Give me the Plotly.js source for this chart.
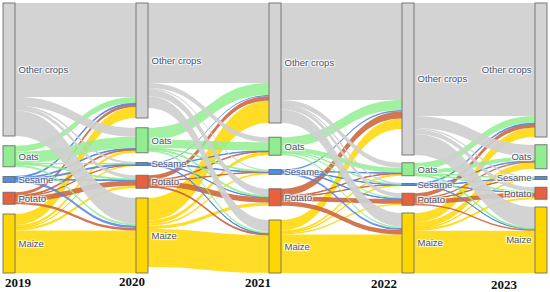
<!DOCTYPE html>
<html><head><meta charset="utf-8">
<script src="https://cdn.plot.ly/plotly-3.0.1.min.js"></script>
<style>html,body{margin:0;padding:0;background:#fff;}</style>
</head><body>
<div id="chart" style="width:550px;height:292px"></div>
<script>
// ---- data ----
const years = ['2019', '2020', '2021', '2022', '2023'];
const crops = ['Other crops', 'Oats', 'Sesame', 'Potato', 'Maize'];
// rows: source crop (previous year), columns: target crop (next year)
const flows2019to2020 = [
  [94, 9, 1, 3.5, 25.5],
  [6, 11.5, 0.5, 1, 2],
  [1, 0.7, 1, 0.8, 2.5],
  [3, 1, 0.2, 5.3, 2.5],
  [11, 2.8, 0.3, 2.4, 42.5]
];
const flows2020to2021 = [
  [80, 5, 1.3, 7, 11.7],
  [12, 8.5, 0.8, 1, 1.7],
  [1.2, 0.4, 0.6, 0.3, 0.5],
  [4.5, 0.6, 0.4, 5.5, 1],
  [22.3, 3.5, 1.9, 3.2, 38.1]
];
const flows2021to2022 = [
  [97, 5, 0.5, 4, 13.5],
  [10, 5, 0.3, 1.2, 1.5],
  [1.5, 0.5, 0.4, 0.6, 2],
  [7, 0.5, 0.3, 4.7, 4.5],
  [10.5, 2, 0.5, 1.5, 38.5]
];
const flows2022to2023 = [
  [113, 12, 1.5, 4.5, 21],
  [7, 4, 0.3, 0.7, 1],
  [0.8, 0.4, 0.4, 0.1, 0.3],
  [4, 1.6, 0.3, 4.6, 1.5],
  [9.2, 6, 0.5, 2.1, 42.2]
];
const stages = [flows2019to2020, flows2020to2021, flows2021to2022, flows2022to2023];

// ---- styles ----
const nodeColors = ['#d3d3d3', '#90ee90', '#4a90e2', '#e8603c', '#ffd700'];
const linkColors = ['rgba(208,208,208,0.93)', 'rgba(144,238,144,0.85)', 'rgba(80,130,235,0.85)',
                    'rgba(205,100,58,0.88)', 'rgba(255,215,0,0.85)'];
const drawOrder = [4, 3, 2, 1, 0]; // grey flows on top

const W = 550, H = 292;
const M = {l: 3, r: 3, t: 3, b: 19};
const plotH = H - M.t - M.b, plotW = W - M.l - M.r;
const thickness = 12;
const pad = 7.75;

// ---- build sankey ----
const nC = crops.length, nY = years.length;
const labels = [], colors = [], src = [], tgt = [], val = [], lcol = [];
for (let y = 0; y < nY; y++) for (let c = 0; c < nC; c++) { labels.push(crops[c]); colors.push(nodeColors[c]); }
const inS = new Array(nC * nY).fill(0), outS = new Array(nC * nY).fill(0);
stages.forEach((m, s) => {
  drawOrder.forEach(i => m[i].forEach((v, j) => {
    const a = s * nC + i, b = (s + 1) * nC + j;
    src.push(a); tgt.push(b); val.push(v); lcol.push(linkColors[i]);
    outS[a] += v; inS[b] += v;
  }));
});
const nodeVal = inS.map((v, k) => Math.max(v, outS[k]));
const colSum = years.map((_, y) => nodeVal.slice(y * nC, y * nC + nC).reduce((a, b) => a + b, 0));
const ky = Math.min(...colSum.map(s => (plotH - (nC - 1) * pad) / s));
// justify each column over the full height (equal gaps within a column)
const nx = [], ny = [];
for (let y = 0; y < nY; y++) {
  const gap = (plotH - colSum[y] * ky) / (nC - 1);
  let acc = 0;
  for (let c = 0; c < nC; c++) {
    const h = nodeVal[y * nC + c] * ky;
    ny.push(Math.max(0.0005, (acc + h / 2) / plotH));
    nx.push(Math.max(0.0005, (thickness / 2 + y * (plotW - thickness) / (nY - 1)) / plotW));
    acc += h + gap;
  }
}

const trace = {
  type: 'sankey',
  arrangement: 'fixed',
  orientation: 'h',
  node: {
    label: labels, color: colors, x: nx, y: ny,
    pad: pad, thickness: thickness,
    line: {color: 'rgba(110,110,110,0.9)', width: 1},
    hoverinfo: 'none'
  },
  link: {source: src, target: tgt, value: val, color: lcol, hoverinfo: 'none'},
  textfont: {family: 'Liberation Sans', size: 9.5, color: '#4b5575'}
};

const yearPos = [[3, 'left', 0], [147, 'right', 1], [273, 'right', 0], [399, 'right', -1], [520, 'right', -2]];
const annotations = years.map((t, i) => ({
  text: '<b>' + t + '</b>', xref: 'paper', yref: 'paper',
  x: (yearPos[i][0] - M.l) / plotW, xanchor: yearPos[i][1],
  y: 0, yanchor: 'middle', yshift: -9 + yearPos[i][2], showarrow: false,
  font: {family: 'Liberation Serif', size: 13, color: '#111'}
}));

Plotly.newPlot('chart', [trace], {
  width: W, height: H, margin: M, paper_bgcolor: '#fff',
  annotations: annotations, showlegend: false
}, {displayModeBar: false, staticPlot: true});
</script>
</body></html>
